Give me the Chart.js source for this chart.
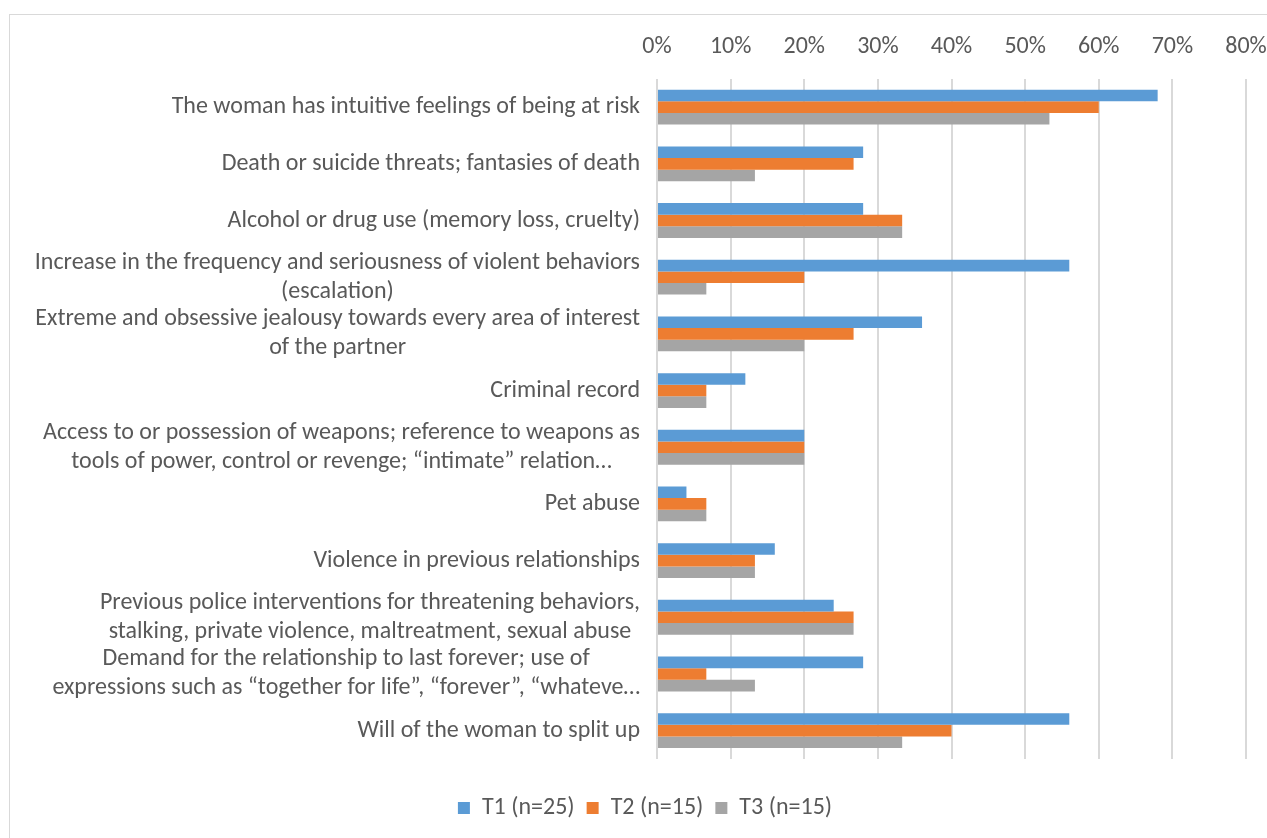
<!DOCTYPE html>
<html>
<head>
<meta charset="utf-8">
<script src="https://cdn.jsdelivr.net/npm/chart.js@4"></script>
<style>
  html, body { margin: 0; padding: 0; background: #ffffff; }
  #wrap { position: relative; width: 1267px; height: 838px; }
</style>
</head>
<body>
<div id="wrap"><canvas id="c" width="1267" height="838"></canvas></div>
<script>
const categories = [
  ["The woman has intuitive feelings of being at risk"],
  ["Death or suicide threats; fantasies of death"],
  ["Alcohol or drug use (memory loss, cruelty)"],
  ["Increase in the frequency and seriousness of violent behaviors", "(escalation)"],
  ["Extreme and obsessive jealousy towards every area of interest", "of the partner"],
  ["Criminal record"],
  ["Access to or possession of weapons; reference to weapons as", "tools of power, control or revenge; \u201cintimate\u201d relation\u2026"],
  ["Pet abuse"],
  ["Violence in previous relationships"],
  ["Previous police interventions for threatening behaviors,", "stalking, private violence, maltreatment, sexual abuse"],
  ["Demand for the relationship to last forever; use of", "expressions such as \u201ctogether for life\u201d, \u201cforever\u201d, \u201cwhateve\u2026"],
  ["Will of the woman to split up"]
];
const seriesNames = ["T1 (n=25)", "T2 (n=15)", "T3 (n=15)"];
const t1Values = [68, 28, 28, 56, 36, 12, 20, 4, 16, 24, 28, 56];
const t2Values = [60, 26.7, 33.3, 20, 26.7, 6.7, 20, 6.7, 13.3, 26.7, 6.7, 40];
const t3Values = [53.3, 13.3, 33.3, 6.7, 20, 6.7, 20, 6.7, 13.3, 26.7, 13.3, 33.3];
const xTicks = [0, 10, 20, 30, 40, 50, 60, 70, 80];

const FONT = "Carlito, Lato, 'Liberation Sans', sans-serif";
const FSIZE = 24;
const TEXT = "#595959";

const borderPlugin = {
  id: 'outerBorder',
  beforeDraw(chart) {
    const ctx = chart.ctx;
    ctx.save();
    ctx.fillStyle = '#ffffff';
    ctx.fillRect(0, 0, chart.width, chart.height);
    ctx.strokeStyle = '#d9d9d9';
    ctx.lineWidth = 1;
    ctx.strokeRect(9.5, 14.5, chart.width + 20, chart.height + 20);
    ctx.restore();
  }
};

const legendShift = {
  id: 'legendShift',
  afterLayout(chart) {
    const lg = chart.legend;
    if (lg) { lg.top += 25; lg.bottom += 25; }
  }
};

const yLabels = {
  id: 'yLabels',
  afterDraw(chart) {
    const ctx = chart.ctx;
    const ys = chart.scales.y;
    const rightEdge = chart.chartArea.left - 17;
    const lh = 29;
    ctx.save();
    ctx.font = FSIZE + "px " + FONT;
    ctx.fillStyle = TEXT;
    ctx.textBaseline = 'middle';
    ctx.textAlign = 'center';
    categories.forEach((lines, i) => {
      const yc = ys.getPixelForValue(i);
      const w = Math.max(...lines.map(l => ctx.measureText(l).width));
      const cx = rightEdge - w / 2;
      lines.forEach((l, j) => {
        ctx.fillText(l, cx, yc + (j - (lines.length - 1) / 2) * lh);
      });
    });
    ctx.restore();
  }
};

new Chart(document.getElementById('c'), {
  type: 'bar',
  data: {
    labels: categories.map(c => c.join(' ')),
    datasets: [
      { label: seriesNames[0], data: t1Values, backgroundColor: '#5B9BD5' },
      { label: seriesNames[1], data: t2Values, backgroundColor: '#ED7D31' },
      { label: seriesNames[2], data: t3Values, backgroundColor: '#A5A5A5' }
    ]
  },
  options: {
    indexAxis: 'y',
    responsive: false,
    animation: false,
    devicePixelRatio: 1,
    layout: { padding: { left: 44, right: 21, top: 33, bottom: 33 } },
    datasets: { bar: { categoryPercentage: 0.615, barPercentage: 1.0 } },
    scales: {
      x: {
        position: 'top',
        min: 0, max: 80,
        afterBuildTicks: s => { s.ticks = xTicks.map(v => ({ value: v })); },
        ticks: {
          padding: 0,
          color: TEXT,
          font: { family: FONT, size: FSIZE },
          callback: v => v + '%'
        },
        grid: { color: '#d9d9d9', lineWidth: 2, tickLength: 17, tickColor: 'rgba(0,0,0,0)' },
        border: { display: false }
      },
      y: {
        ticks: { display: false },
        grid: { display: false },
        border: { display: false },
        afterFit: s => { s.width = 613; }
      }
    },
    plugins: {
      legend: {
        position: 'bottom',
        labels: {
          boxWidth: 12, boxHeight: 12, padding: 12,
          color: TEXT,
          font: { family: FONT, size: FSIZE }
        }
      },
      tooltip: { enabled: false }
    }
  },
  plugins: [borderPlugin, legendShift, yLabels]
});
</script>
</body>
</html>
